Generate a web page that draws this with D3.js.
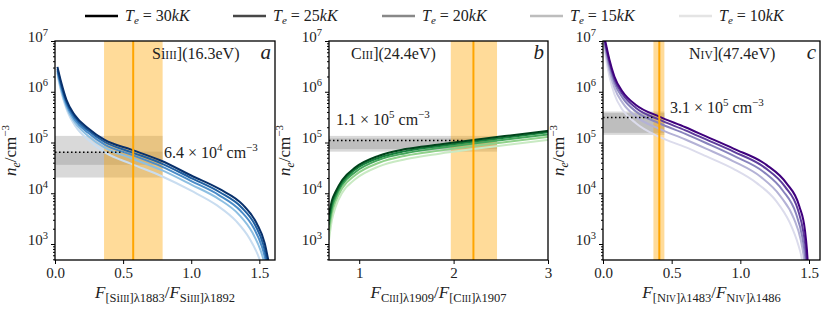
<!DOCTYPE html>
<style>
body { margin: 0; background: #fff; }
text { font-family: "Liberation Serif", "DejaVu Serif", serif; fill: #222; }
.axis .domain { display: none; }
.axis line { stroke: #000; }
</style>
<svg width="830" height="309" class="fig"></svg>
<script src="https://d3js.org/d3.v7.min.js"></script>
<script>

// electron temperatures (kK), hottest first, and legend greys
var temps = ["30", "25", "20", "15", "10"];
var legendGreys = ["#000000", "#474747", "#888888", "#bdbdbd", "#e4e4e4"];

// [ratio, log10 ne]
var si30 = [[0.018,6.49],[0.047,6.17],[0.084,5.84],[0.145,5.54],[0.243,5.28],[0.365,5.05],[0.56,4.86],[0.78,4.64],[1.0,4.35],[1.21,4.08],[1.38,3.77],[1.48,3.41],[1.54,3.01],[1.566,2.68],[1.572,2.6]];
var si25 = [[0.018,6.45],[0.047,6.12],[0.084,5.80],[0.145,5.50],[0.243,5.24],[0.365,5.01],[0.56,4.81],[0.78,4.59],[1.0,4.30],[1.21,4.02],[1.37,3.72],[1.47,3.37],[1.53,2.98],[1.556,2.68],[1.562,2.6]];
var si20 = [[0.018,6.41],[0.047,6.07],[0.084,5.75],[0.145,5.45],[0.243,5.19],[0.365,4.96],[0.56,4.76],[0.78,4.53],[1.0,4.24],[1.2,3.97],[1.36,3.66],[1.46,3.31],[1.52,2.94],[1.548,2.66],[1.553,2.6]];
var si15 = [[0.018,6.37],[0.047,6.02],[0.084,5.70],[0.145,5.40],[0.243,5.13],[0.365,4.90],[0.56,4.69],[0.78,4.46],[1.0,4.17],[1.2,3.89],[1.35,3.58],[1.45,3.22],[1.51,2.87],[1.537,2.64],[1.542,2.6]];
var si10 = [[0.02,6.30],[0.05,5.95],[0.09,5.62],[0.15,5.32],[0.25,5.04],[0.37,4.80],[0.56,4.58],[0.78,4.34],[1.0,4.05],[1.19,3.76],[1.33,3.45],[1.43,3.1],[1.49,2.78],[1.515,2.6]];

var c30 = [[0.68,3.58],[0.71,3.85],[0.75,4.03],[0.82,4.26],[0.96,4.51],[1.21,4.74],[1.49,4.87],[1.85,4.96],[2.21,5.05],[2.6,5.14],[3.0,5.23]];
var c25 = [[0.68,3.48],[0.71,3.78],[0.75,3.98],[0.82,4.22],[0.96,4.47],[1.21,4.70],[1.49,4.83],[1.85,4.93],[2.21,5.02],[2.6,5.11],[3.0,5.20]];
var c20 = [[0.68,3.38],[0.71,3.70],[0.75,3.92],[0.82,4.17],[0.96,4.42],[1.21,4.66],[1.49,4.79],[1.85,4.89],[2.21,4.98],[2.6,5.07],[3.0,5.16]];
var c15 = [[0.68,3.25],[0.71,3.60],[0.75,3.84],[0.82,4.10],[0.96,4.36],[1.21,4.60],[1.49,4.74],[1.85,4.84],[2.21,4.93],[2.6,5.02],[3.0,5.11]];
var c10 = [[0.68,3.08],[0.71,3.46],[0.75,3.73],[0.82,4.01],[0.96,4.28],[1.21,4.53],[1.49,4.67],[1.85,4.78],[2.21,4.87],[2.6,4.96],[3.0,5.05]];

var n30 = [[0.012,7.05],[0.022,6.93],[0.047,6.63],[0.083,6.30],[0.143,6.0],[0.24,5.74],[0.41,5.51],[0.60,5.30],[0.75,5.12],[0.95,4.88],[1.19,4.56],[1.335,4.20],[1.43,3.74],[1.47,3.28],[1.485,2.88],[1.492,2.6]];
var n25 = [[0.012,7.0],[0.022,6.88],[0.047,6.58],[0.083,6.25],[0.143,5.95],[0.24,5.68],[0.41,5.45],[0.60,5.24],[0.75,5.06],[0.95,4.82],[1.18,4.50],[1.325,4.13],[1.42,3.67],[1.46,3.22],[1.478,2.85],[1.485,2.6]];
var n20 = [[0.012,6.95],[0.022,6.82],[0.047,6.51],[0.083,6.18],[0.143,5.88],[0.24,5.61],[0.41,5.38],[0.60,5.17],[0.75,4.99],[0.95,4.74],[1.17,4.42],[1.31,4.05],[1.405,3.6],[1.45,3.15],[1.47,2.8],[1.478,2.6]];
var n15 = [[0.012,6.9],[0.022,6.75],[0.047,6.42],[0.083,6.08],[0.143,5.78],[0.24,5.51],[0.41,5.27],[0.60,5.06],[0.75,4.88],[0.95,4.63],[1.15,4.32],[1.29,3.95],[1.39,3.5],[1.44,3.08],[1.46,2.78],[1.468,2.6]];
var n10 = [[0.012,6.82],[0.022,6.65],[0.047,6.30],[0.083,5.95],[0.143,5.64],[0.24,5.38],[0.41,5.11],[0.60,4.91],[0.75,4.73],[0.95,4.48],[1.12,4.20],[1.26,3.85],[1.36,3.42],[1.42,3.0],[1.445,2.75],[1.455,2.6]];

// measured ratio (centre, low, high) and derived log10 ne bands
var ratioSi = [0.574, 0.36, 0.79];
var ratioC = [2.21, 1.97, 2.46];
var ratioN = [0.41, 0.367, 0.447];
var bandSi = [[4.56, 5.13], [4.31, 4.82]];
var bandC = [[4.82, 5.08], [4.87, 5.13]];
var bandN = [[5.15, 5.58], [5.19, 5.61]];
var neSi = 6.4e4, neC = 1.1e5, neN = 3.1e5;
var dotEndSi = 0.5, dotEndC = 2.1, dotEndN = 0.36;

var blues = ["#08306b", "#1f5fa0", "#4a8cc8", "#8dbfe2", "#c9ddf0"];
var greens = ["#00441b", "#16803c", "#43a65a", "#8fd18a", "#c9eac3"];
var purples = ["#3f007d", "#5e3d9c", "#8883bd", "#b4b2d6", "#dcdcec"];

var svg = d3.select(".fig");
var top_ = 41, bottom_ = 260;

var y = d3.scaleLog().domain([484, 1e7]).range([bottom_, top_]);

var panels = [
  {left: 55, right: 275, dom: [0, 1.615], ticks: [0, 0.5, 1, 1.5], fmt: ".1f",
   curves: [si30, si25, si20, si15, si10], colors: blues, ratio: ratioSi, bands: bandSi,
   ne: neSi, dotEnd: dotEndSi, ion: ["Si", "III", "](16.3eV)"], letter: "a", titleX: 152,
   note: ["6.4", "4"], noteX: 164, noteY: 158,
   xlab: [["[Si", "III", "]λ1883"], ["Si", "III", "]λ1892"]]},
  {left: 329, right: 548, dom: [0.68, 3], ticks: [1, 2, 3], fmt: "d",
   curves: [c30, c25, c20, c15, c10], colors: greens, ratio: ratioC, bands: bandC,
   ne: neC, dotEnd: dotEndC, ion: ["C", "III", "](24.4eV)"], letter: "b", titleX: 351,
   note: ["1.1", "5"], noteX: 336, noteY: 125,
   xlab: [["C", "III", "]λ1909"], ["[C", "III", "]λ1907"]]},
  {left: 603, right: 820, dom: [0, 1.58], ticks: [0, 0.5, 1, 1.5], fmt: ".1f",
   curves: [n30, n25, n20, n15, n10], colors: purples, ratio: ratioN, bands: bandN,
   ne: neN, dotEnd: dotEndN, ion: ["N", "IV", "](47.4eV)"], letter: "c", titleX: 689,
   note: ["3.1", "5"], noteX: 670, noteY: 113,
   xlab: [["[N", "IV", "]λ1483"], ["N", "IV", "]λ1486"]]}
];

// append tspans with vertical shifts (sh: baseline offset, negative = up)
function rich(sel, parts) {
  var cur = 0;
  parts.forEach(function(p) {
    var sh = p.sh || 0;
    sel.append("tspan")
      .attr("dy", sh - cur)
      .attr("font-size", p.s)
      .attr("font-style", p.i ? "italic" : null)
      .text(p.t);
    cur = sh;
  });
}

panels.forEach(function(p, k) {
  var x = d3.scaleLinear().domain(p.dom).range([p.left, p.right]);
  var g = svg.append("g");
  var cid = "clip" + k;
  g.append("clipPath").attr("id", cid).append("rect")
      .attr("x", p.left).attr("y", top_).attr("width", p.right - p.left).attr("height", bottom_ - top_);
  var plot = g.append("g").attr("clip-path", "url(#" + cid + ")");

  // grey density bands
  p.bands.forEach(function(b) {
    plot.append("rect")
      .attr("x", x(p.dom[0]))
      .attr("width", x(p.ratio[2]) - x(p.dom[0]))
      .attr("y", y(Math.pow(10, b[1])))
      .attr("height", y(Math.pow(10, b[0])) - y(Math.pow(10, b[1])))
      .attr("fill", "#808080").attr("fill-opacity", 0.3);
  });

  // measured ratio range
  plot.append("rect")
    .attr("x", x(p.ratio[1])).attr("width", x(p.ratio[2]) - x(p.ratio[1]))
    .attr("y", top_).attr("height", bottom_ - top_)
    .attr("fill", "#ffa500").attr("fill-opacity", 0.4);

  var line = d3.line()
    .x(function(d) { return x(d[0]); })
    .y(function(d) { return y(Math.pow(10, d[1])); })
    .curve(d3.curveMonotoneX);

  p.curves.slice().reverse().forEach(function(c, i) {
    plot.append("path").datum(c)
      .attr("d", line)
      .attr("fill", "none")
      .attr("stroke", p.colors[p.colors.length - 1 - i])
      .attr("stroke-width", 2);
  });

  plot.append("line")
    .attr("x1", x(p.ratio[0])).attr("x2", x(p.ratio[0]))
    .attr("y1", top_).attr("y2", bottom_)
    .attr("stroke", "#ffa500").attr("stroke-width", 2);

  plot.append("line")
    .attr("x1", x(p.dom[0])).attr("x2", x(p.dotEnd))
    .attr("y1", y(p.ne)).attr("y2", y(p.ne))
    .attr("stroke", "#000").attr("stroke-width", 1.5)
    .attr("stroke-dasharray", "1.5,2.5");

  // axes
  var yMajor = [1e3, 1e4, 1e5, 1e6, 1e7];
  var yMinor = [];
  [100, 1e3, 1e4, 1e5, 1e6].forEach(function(b) {
    for (var m = 2; m < 10; m++) if (b * m > 484) yMinor.push(b * m);
  });

  g.append("g").attr("class", "axis")
    .attr("transform", "translate(" + p.left + ",0)")
    .call(d3.axisLeft(y).tickValues(yMinor).tickSize(2).tickFormat(""));

  var ya = g.append("g").attr("class", "axis")
    .attr("transform", "translate(" + p.left + ",0)")
    .call(d3.axisLeft(y).tickValues(yMajor).tickSize(4).tickPadding(3).tickFormat(function() { return ""; }));
  ya.selectAll(".tick text").each(function(d) {
    var t = d3.select(this).attr("font-size", 15).attr("fill", "#222").attr("font-family", null);
    rich(t, [{t: "10", s: 15}, {t: String(Math.round(Math.log10(d))), s: 10.5, sh: -6}]);
  });

  var xa = g.append("g").attr("class", "axis")
    .attr("transform", "translate(0," + bottom_ + ")")
    .call(d3.axisBottom(x).tickValues(p.ticks).tickSize(4).tickPadding(3).tickFormat(d3.format(p.fmt)));
  xa.selectAll(".tick text").attr("font-size", 15).attr("fill", "#222").attr("font-family", null);

  g.append("rect")
    .attr("x", p.left).attr("y", top_).attr("width", p.right - p.left).attr("height", bottom_ - top_)
    .attr("fill", "none").attr("stroke", "#000").attr("stroke-width", 1.3);

  // y label
  var yl = g.append("text")
    .attr("transform", "translate(" + (p.left - 39) + "," + ((top_ + bottom_) / 2) + ") rotate(-90)")
    .attr("text-anchor", "middle").attr("font-size", 16);
  rich(yl, [{t: "n", s: 17, i: 1}, {t: "e", s: 12, i: 1, sh: 4}, {t: "/cm", s: 17}, {t: "−3", s: 11, sh: -7}]);

  // x label
  var xl = g.append("text")
    .attr("x", (p.left + p.right) / 2).attr("y", 298)
    .attr("text-anchor", "middle").attr("font-size", 17);
  rich(xl, [
    {t: "F", s: 17, i: 1},
    {t: p.xlab[0][0], s: 12.5, sh: 4}, {t: p.xlab[0][1], s: 9.5, sh: 4}, {t: p.xlab[0][2], s: 12.5, sh: 4},
    {t: "/", s: 17},
    {t: "F", s: 17, i: 1},
    {t: p.xlab[1][0], s: 12.5, sh: 4}, {t: p.xlab[1][1], s: 9.5, sh: 4}, {t: p.xlab[1][2], s: 12.5, sh: 4}
  ]);

  // ion title and panel letter
  var tt = g.append("text").attr("x", p.titleX).attr("y", 59).attr("font-size", 16);
  rich(tt, [{t: p.ion[0], s: 16}, {t: p.ion[1], s: 11.5}, {t: p.ion[2], s: 16}]);
  g.append("text").attr("x", p.right - 4).attr("y", 59).attr("text-anchor", "end")
    .attr("font-size", 21).attr("font-style", "italic").text(p.letter);

  // density annotation
  var nt = g.append("text").attr("x", p.noteX).attr("y", p.noteY).attr("font-size", 16);
  rich(nt, [{t: p.note[0] + " × 10", s: 16}, {t: p.note[1], s: 11, sh: -7}, {t: " cm", s: 16}, {t: "−3", s: 11, sh: -7}]);
});

// legend
var lx = [85, 233, 382, 530, 679];
var lg = svg.append("g").selectAll("g").data(temps).enter().append("g")
  .attr("transform", function(d, i) { return "translate(" + lx[i] + ",16)"; });
lg.append("line").attr("x1", 0).attr("x2", 33)
  .attr("stroke", function(d, i) { return legendGreys[i]; }).attr("stroke-width", 2.5);
lg.append("text").attr("x", 40).attr("y", 5).attr("font-size", 15)
  .each(function(d) {
    rich(d3.select(this), [{t: "T", s: 16, i: 1}, {t: "e", s: 11, i: 1, sh: 3}, {t: " = " + d, s: 16}, {t: "kK", s: 16, i: 1}]);
  });

</script>
